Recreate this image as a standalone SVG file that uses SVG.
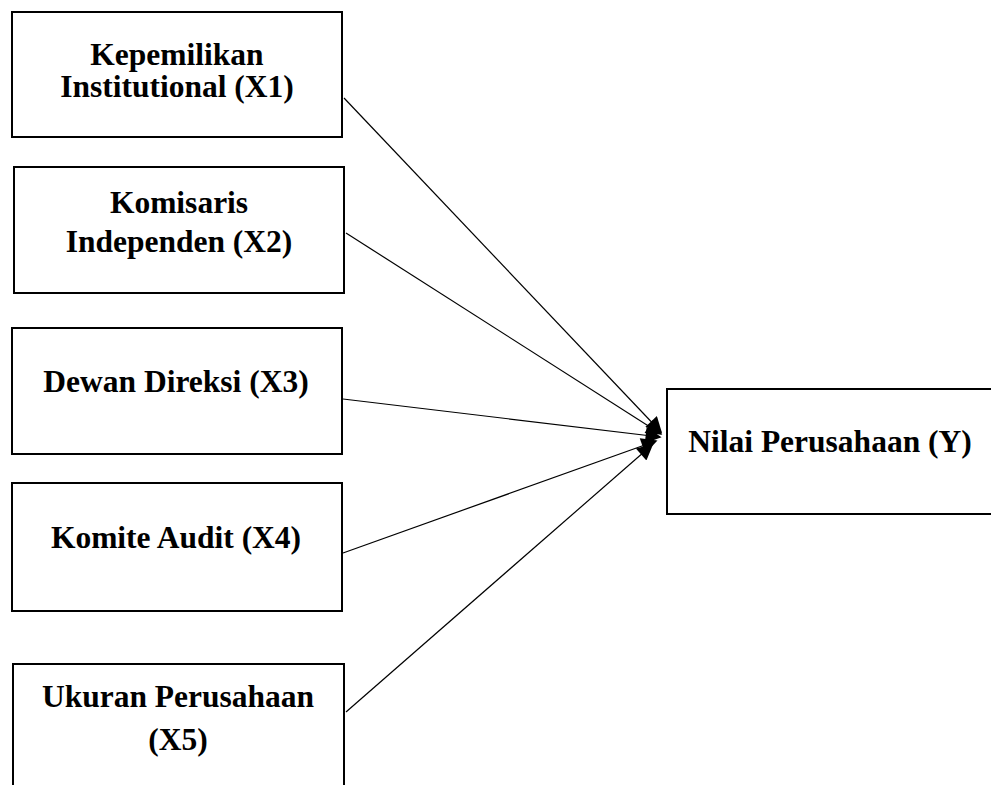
<svg xmlns="http://www.w3.org/2000/svg" width="991" height="785" viewBox="0 0 991 785">
<style>
.box{fill:#fff;stroke:#000;stroke-width:2}
.lbl{font-family:"Liberation Serif","Times New Roman",serif;font-weight:bold;font-size:31.5px;fill:#000;text-anchor:middle}
.conn{stroke:#000;stroke-width:1.2;fill:none;marker-end:url(#ah)}
</style>
<defs>
<marker id="ah" viewBox="0 0 10 10" refX="9" refY="5" markerWidth="19" markerHeight="16" markerUnits="userSpaceOnUse" orient="auto">
<path d="M0,0 L10,5 L0,10 z" fill="#000"/>
</marker>
</defs>
<rect width="991" height="785" fill="#fff"/>
<g id="x1"><rect class="box" x="12" y="12" width="330" height="125"/><text class="lbl" x="177" y="65">Kepemilikan</text><text class="lbl" x="177" y="97">Institutional (X1)</text></g>
<g id="x2"><rect class="box" x="14" y="167" width="330" height="126"/><text class="lbl" x="179" y="213">Komisaris</text><text class="lbl" x="179" y="252">Independen (X2)</text></g>
<g id="x3"><rect class="box" x="12" y="328" width="330" height="126"/><text class="lbl" x="176" y="392">Dewan Direksi (X3)</text></g>
<g id="x4"><rect class="box" x="12" y="483" width="330" height="128"/><text class="lbl" x="176" y="548">Komite Audit (X4)</text></g>
<g id="x5"><rect class="box" x="13" y="664" width="331" height="140"/><text class="lbl" x="178" y="707">Ukuran Perusahaan</text><text class="lbl" x="178" y="750">(X5)</text></g>
<g id="y"><rect class="box" x="667" y="389" width="340" height="125"/><text class="lbl" x="830" y="452">Nilai Perusahaan (Y)</text></g>
<g id="connectors">
<line class="conn" x1="344" y1="98" x2="661" y2="432"/>
<line class="conn" x1="346" y1="233" x2="661" y2="434"/>
<line class="conn" x1="343" y1="399" x2="660" y2="437"/>
<line class="conn" x1="343" y1="553" x2="656" y2="441"/>
<line class="conn" x1="346" y1="712" x2="652" y2="445"/>
</g>
</svg>
